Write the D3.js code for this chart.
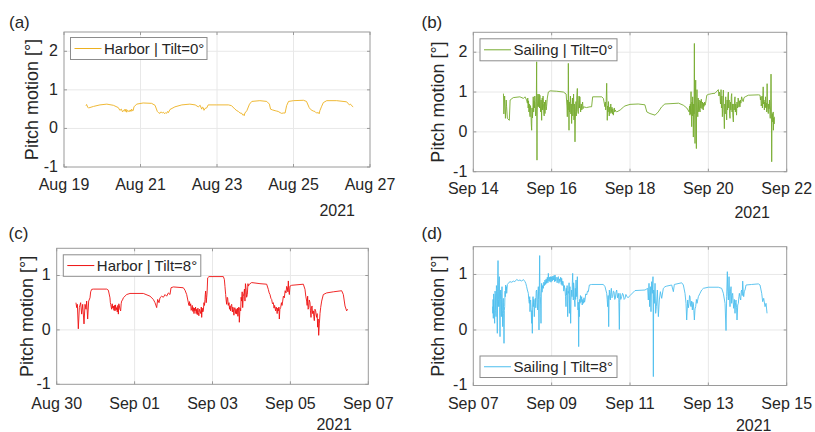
<!DOCTYPE html>
<html><head><meta charset="utf-8">
<script src="https://cdn.jsdelivr.net/npm/d3@7"></script>
<style>
body{margin:0;background:#fff}
svg{display:block}
text{font-family:"Liberation Sans",Arial,Helvetica,sans-serif;fill:#262626}
</style>
</head><body>
<svg id="chart" width="815" height="432"></svg>
<script>
// ---- data: [days since panel start, pitch motion in degrees] ----
const harborTilt0 = [[0.575,0.59],[0.59,0.62],[0.62,0.55],[0.64,0.53],[0.77,0.57],[0.94,0.61],[1.12,0.63],[1.29,0.60],[1.42,0.54],[1.46,0.47],[1.50,0.50],[1.53,0.43],[1.55,0.45],[1.58,0.49],[1.60,0.44],[1.62,0.50],[1.64,0.42],[1.66,0.47],[1.68,0.46],[1.70,0.43],[1.73,0.48],[1.75,0.44],[1.77,0.50],[1.79,0.45],[1.81,0.47],[1.83,0.56],[1.90,0.63],[2.07,0.66],[2.29,0.65],[2.38,0.60],[2.44,0.44],[2.47,0.41],[2.51,0.39],[2.54,0.43],[2.57,0.40],[2.60,0.42],[2.63,0.38],[2.66,0.41],[2.68,0.39],[2.71,0.44],[2.73,0.41],[2.77,0.49],[2.90,0.56],[3.08,0.61],[3.29,0.63],[3.43,0.61],[3.51,0.56],[3.56,0.60],[3.60,0.50],[3.62,0.55],[3.64,0.54],[3.66,0.47],[3.69,0.52],[3.73,0.53],[3.77,0.61],[3.99,0.61],[4.30,0.61],[4.38,0.59],[4.47,0.50],[4.52,0.46],[4.56,0.44],[4.60,0.40],[4.65,0.39],[4.67,0.35],[4.69,0.36],[4.71,0.33],[4.73,0.40],[4.78,0.46],[4.85,0.63],[4.91,0.70],[5.12,0.72],[5.30,0.70],[5.37,0.63],[5.40,0.50],[5.45,0.48],[5.52,0.46],[5.56,0.45],[5.60,0.44],[5.65,0.41],[5.69,0.39],[5.73,0.40],[5.78,0.40],[5.82,0.59],[5.87,0.70],[6.00,0.72],[6.26,0.73],[6.34,0.70],[6.41,0.54],[6.45,0.49],[6.48,0.47],[6.52,0.45],[6.56,0.44],[6.60,0.40],[6.65,0.41],[6.67,0.38],[6.69,0.46],[6.73,0.56],[6.78,0.67],[6.87,0.72],[7.13,0.72],[7.39,0.69],[7.46,0.61],[7.49,0.63],[7.52,0.59],[7.56,0.56]];

const sailingTilt0 = [[0.77,0.96],[0.78,0.45],[0.80,0.90],[0.82,0.34],[0.84,0.80],[0.85,0.63],[0.87,0.34],[0.92,0.29],[0.94,0.80],[1.02,0.86],[1.19,0.88],[1.28,0.84],[1.32,0.88],
[1.36,0.80],[1.38,0.72],[1.39,0.85],[1.40,0.60],[1.41,0.78],[1.42,0.50],[1.43,0.70],[1.44,0.45],[1.45,0.38],[1.46,0.66],[1.47,0.55],[1.48,0.20],[1.49,0.04],[1.50,0.60],[1.51,0.35],[1.52,0.55],[1.53,0.88],[1.54,0.50],[1.55,0.78],[1.56,0.60],[1.57,0.90],[1.58,0.76],[1.59,0.40],[1.60,0.45],[1.61,0.85],[1.617,1.76],[1.626,-0.71],[1.63,0.55],[1.64,0.70],[1.65,0.95],[1.66,0.63],[1.67,0.85],[1.68,0.95],[1.69,0.60],[1.70,0.92],[1.71,0.65],[1.72,0.50],[1.73,0.80],[1.745,0.29],[1.75,0.70],[1.76,0.85],[1.77,0.55],[1.78,0.90],[1.79,0.71],[1.80,0.45],[1.81,0.40],[1.82,0.75],[1.83,0.46],[1.84,0.70],[1.85,0.80],[1.86,0.55],[1.87,0.63],[1.89,0.85],[1.915,1.00],
[1.96,1.03],[2.13,1.02],[2.30,1.00],
[2.37,0.95],[2.38,0.80],[2.39,0.65],[2.40,0.38],[2.41,0.80],[2.42,0.55],[2.426,1.72],[2.435,0.60],[2.443,0.04],[2.45,0.75],[2.46,0.50],[2.47,0.71],[2.48,0.90],[2.49,0.45],[2.50,0.70],[2.51,0.21],[2.52,0.60],[2.53,0.85],[2.54,0.40],[2.55,0.63],[2.56,0.95],[2.57,0.30],[2.58,0.70],[2.596,-0.25],[2.61,0.50],[2.62,0.76],[2.63,0.40],[2.64,0.85],[2.656,1.09],[2.665,0.55],[2.68,0.46],[2.69,0.75],[2.70,0.90],[2.71,0.60],[2.72,0.88],[2.73,0.65],[2.74,0.50],[2.755,0.70],[2.77,0.55],[2.78,0.68],[2.79,0.75],[2.80,0.58],[2.81,0.63],
[2.89,0.61],[2.98,0.63],[3.02,0.63],[3.047,0.88],[3.28,0.88],[3.32,0.84],
[3.36,0.63],[3.37,0.75],[3.38,0.55],[3.39,0.70],[3.405,1.22],[3.42,0.29],[3.43,0.65],[3.44,0.50],[3.45,0.76],[3.46,0.55],[3.47,0.40],[3.48,0.62],[3.49,0.46],[3.50,0.58],[3.51,0.70],[3.52,0.48],[3.53,0.55],[3.54,0.62],[3.55,0.45],[3.56,0.58],[3.575,0.42],[3.59,0.55],[3.60,0.60],[3.61,0.50],[3.62,0.55],[3.64,0.52],[3.66,0.50],
[3.75,0.55],[3.83,0.62],[3.87,0.65],[4.00,0.69],[4.21,0.70],[4.38,0.68],[4.43,0.50],[4.51,0.46],[4.64,0.42],[4.72,0.50],[4.81,0.63],[4.89,0.70],[5.24,0.72],[5.36,0.67],
[5.45,0.60],[5.48,0.55],[5.51,0.50],[5.52,0.65],[5.53,0.42],[5.54,0.70],[5.55,0.45],[5.558,1.01],[5.565,0.50],[5.575,0.13],[5.585,0.75],[5.59,0.40],[5.60,0.88],[5.61,0.55],[5.617,-0.13],[5.625,0.70],[5.635,0.45],[5.643,2.22],[5.65,0.60],[5.66,-0.29],[5.668,0.85],[5.677,1.30],[5.685,0.50],[5.694,-0.42],[5.70,0.70],[5.71,1.06],[5.72,0.55],[5.73,0.38],[5.74,0.85],[5.745,0.76],[5.755,0.50],[5.765,0.80],[5.775,0.55],[5.79,0.50],[5.80,0.78],[5.81,0.60],[5.82,0.82],[5.83,0.71],[5.84,0.58],[5.85,0.75],[5.86,0.62],[5.87,0.55],[5.88,0.72],[5.89,0.64],[5.90,0.75],[5.915,0.67],[5.93,0.72],[5.96,0.92],
[6.00,0.94],[6.09,0.96],[6.17,0.97],
[6.255,1.06],[6.27,0.90],[6.285,1.00],[6.30,0.88],[6.31,0.70],[6.324,1.06],[6.335,0.60],[6.345,0.90],[6.358,0.38],[6.37,0.75],[6.383,1.05],[6.395,0.55],[6.409,0.08],[6.42,0.70],[6.43,0.45],[6.443,0.88],[6.455,0.60],[6.468,0.30],[6.48,0.80],[6.49,0.55],[6.50,0.92],[6.511,1.00],[6.52,0.60],[6.53,0.80],[6.542,0.45],[6.553,0.34],[6.565,0.75],[6.575,0.55],[6.585,0.88],[6.596,0.96],[6.605,0.50],[6.615,0.70],[6.625,0.40],[6.638,0.25],[6.65,0.70],[6.66,0.55],[6.67,0.80],[6.68,0.88],[6.69,0.50],[6.70,0.70],[6.71,0.60],[6.72,0.42],[6.73,0.75],[6.745,0.60],[6.76,0.85],[6.77,0.80],[6.78,0.62],[6.79,0.78],[6.80,0.65],[6.81,0.63],[6.82,0.80],[6.83,0.72],[6.85,0.88],[6.87,0.80],[6.89,0.76],[6.91,0.86],[6.94,0.88],
[7.02,0.92],[7.28,0.93],
[7.32,0.92],[7.33,0.80],[7.34,0.88],[7.35,0.65],[7.36,0.71],[7.37,0.90],[7.38,0.60],[7.39,0.85],[7.40,1.13],[7.41,0.70],[7.42,0.80],[7.43,0.55],[7.44,0.75],[7.45,0.62],[7.46,0.88],[7.47,0.60],[7.48,0.72],[7.49,0.50],[7.50,1.21],[7.51,0.65],[7.52,0.55],[7.53,0.46],[7.54,0.70],[7.55,0.58],[7.56,0.80],[7.57,0.50],[7.58,0.34],[7.59,0.65],[7.60,1.45],[7.61,0.50],[7.617,-0.75],[7.625,0.40],[7.634,0.46],[7.645,0.25],[7.655,0.50],[7.66,0.04],[7.67,0.35],[7.68,0.20],[7.685,0.38]];

const harborTilt8 = [[0.495,0.50],[0.513,0.41],[0.530,0.47],[0.555,0.02],[0.581,0.41],[0.615,0.50],[0.641,0.29],[0.667,0.47],[0.701,0.11],[0.727,0.47],[0.752,0.38],[0.769,0.53],[0.795,0.20],[0.821,0.53],[0.855,0.59],[0.872,0.70],[0.898,0.745],[0.94,0.75],[1.283,0.75],[1.326,0.73],
[1.368,0.59],[1.378,0.50],[1.386,0.47],[1.40,0.42],[1.411,0.38],[1.425,0.48],[1.44,0.40],[1.454,0.44],[1.47,0.36],[1.485,0.45],[1.497,0.35],[1.51,0.46],[1.525,0.37],[1.54,0.41],[1.555,0.33],[1.57,0.45],[1.583,0.29],[1.595,0.48],[1.608,0.44],[1.625,0.38],[1.642,0.35],[1.655,0.48],[1.668,0.53],[1.69,0.55],[1.711,0.59],
[1.796,0.65],[1.882,0.67],[2.224,0.67],[2.396,0.62],[2.481,0.56],[2.524,0.50],[2.567,0.41],[2.592,0.56],[2.627,0.50],[2.652,0.59],[2.695,0.62],[2.738,0.60],[2.781,0.65],[2.823,0.62],[2.866,0.68],[2.909,0.65],[2.935,0.775],[2.995,0.79],[3.251,0.775],[3.294,0.73],[3.337,0.65],
[3.38,0.50],[3.395,0.45],[3.41,0.52],[3.422,0.44],[3.44,0.48],[3.452,0.36],[3.465,0.38],[3.48,0.45],[3.495,0.34],[3.508,0.41],[3.525,0.30],[3.54,0.40],[3.551,0.35],[3.565,0.42],[3.58,0.30],[3.594,0.38],[3.61,0.28],[3.625,0.40],[3.636,0.32],[3.65,0.26],[3.665,0.38],[3.679,0.35],[3.70,0.30],[3.712,0.42],[3.722,0.23],[3.735,0.40],[3.75,0.33],[3.765,0.35],[3.78,0.50],[3.795,0.45],[3.807,0.56],[3.815,0.65],[3.825,0.715],[3.838,0.50],[3.85,0.59],[3.862,0.70],[3.876,0.957],[3.91,0.98],[4.278,0.98],
[4.304,0.93],[4.32,0.80],[4.338,0.65],[4.35,0.55],[4.364,0.47],[4.376,0.60],[4.389,0.59],[4.405,0.45],[4.424,0.50],[4.437,0.38],[4.45,0.44],[4.465,0.35],[4.478,0.45],[4.492,0.47],[4.51,0.33],[4.522,0.42],[4.535,0.38],[4.55,0.27],[4.563,0.40],[4.578,0.41],[4.595,0.30],[4.608,0.38],[4.621,0.29],[4.64,0.40],[4.652,0.25],[4.664,0.35],[4.677,0.42],[4.689,0.14],[4.705,0.40],[4.723,0.35],[4.735,0.60],[4.749,0.53],[4.762,0.70],[4.775,0.41],[4.79,0.62],[4.809,0.68],[4.82,0.75],[4.834,0.53],[4.846,0.85],[4.86,0.775],[4.876,0.60],[4.894,0.65],[4.91,0.85],[4.92,0.805],[4.946,0.84],
[5.005,0.87],[5.219,0.85],[5.391,0.84],
[5.433,0.745],[5.455,0.68],[5.476,0.65],[5.50,0.58],[5.519,0.56],[5.54,0.48],[5.562,0.50],[5.58,0.40],[5.595,0.45],[5.605,0.41],[5.62,0.35],[5.635,0.42],[5.647,0.38],[5.66,0.30],[5.675,0.40],[5.69,0.35],[5.705,0.42],[5.716,0.20],[5.73,0.38],[5.75,0.41],[5.77,0.50],[5.785,0.45],[5.802,0.53],[5.82,0.62],[5.844,0.59],[5.865,0.72],[5.887,0.68],[5.905,0.80],[5.921,0.775],[5.935,0.70],[5.947,0.90],[5.96,0.72],[5.973,0.65],[5.99,0.805],[6.033,0.82],
[6.332,0.84],[6.375,0.745],[6.395,0.62],[6.418,0.53],[6.43,0.45],[6.443,0.62],[6.455,0.38],[6.469,0.41],[6.485,0.55],[6.503,0.50],[6.515,0.35],[6.529,0.23],[6.54,0.40],[6.555,0.44],[6.57,0.30],[6.589,0.35],[6.60,0.25],[6.614,0.17],[6.63,0.38],[6.649,0.35],[6.66,0.28],[6.674,0.23],[6.687,0.30],[6.70,0.05],[6.713,0.20],[6.726,-0.10],[6.743,0.11],[6.76,0.30],[6.777,0.41],[6.803,0.53],[6.845,0.65],[6.931,0.68],[7.102,0.70],[7.316,0.72],[7.359,0.65],[7.402,0.44],[7.444,0.35],[7.47,0.38]];

const sailingTilt8 = [[0.494,0.42],[0.50,0.30],[0.505,0.55],[0.511,0.21],[0.52,0.65],[0.528,0.57],[0.535,0.30],[0.545,0.12],[0.555,0.70],[0.563,0.66],[0.57,0.35],[0.58,0.24],[0.59,0.80],[0.597,0.75],[0.605,0.30],[0.613,-0.06],[0.62,0.70],[0.631,1.25],[0.64,0.55],[0.648,0.42],[0.655,0.85],[0.665,0.96],[0.672,0.40],[0.682,-0.12],[0.69,0.55],[0.699,0.72],[0.708,0.45],[0.716,0.24],[0.725,0.65],[0.733,0.78],[0.742,0.35],[0.75,0.06],[0.758,0.50],[0.767,0.57],[0.775,0.30],[0.784,-0.24],[0.792,0.35],[0.801,0.42],[0.81,0.70],[0.818,0.60],[0.826,0.81],[0.835,0.72],[0.845,0.78],[0.852,0.66],[0.87,0.82],[0.894,0.84],[0.915,0.86],[0.937,0.87],[0.98,0.86],[1.022,0.88],[1.06,0.87],[1.107,0.91],[1.15,0.89],[1.192,0.90],[1.235,0.88],[1.277,0.91],
[1.32,0.87],[1.34,0.84],[1.362,0.78],[1.38,0.72],[1.405,0.66],[1.415,0.55],[1.43,0.48],[1.44,0.60],[1.447,0.33],[1.455,0.50],[1.464,0.54],[1.475,0.40],[1.49,0.12],[1.498,0.35],[1.507,-0.06],[1.515,0.45],[1.525,0.60],[1.532,0.42],[1.545,0.55],[1.558,0.24],[1.57,0.50],[1.584,0.57],[1.595,0.40],[1.605,0.70],[1.617,0.72],[1.63,0.50],[1.643,0.36],[1.65,0.65],[1.66,0.78],[1.668,0.55],[1.677,0.0],[1.685,0.70],[1.694,1.34],[1.70,0.75],[1.711,0.60],[1.72,0.45],[1.728,0.12],[1.737,0.70],[1.745,0.84],[1.755,0.68],[1.77,0.80],[1.788,0.75],[1.80,0.86],[1.815,0.80],[1.83,0.90],[1.845,0.82],[1.86,0.92],[1.873,0.84],[1.89,0.95],[1.905,0.85],[1.915,1.02],[1.93,0.88],[1.945,0.95],[1.958,0.87],[1.97,0.96],[1.985,0.86],[2.0,0.96],[2.015,0.88],[2.03,0.97],[2.043,0.90],[2.06,0.98],[2.075,0.87],[2.086,0.99],[2.10,0.88],[2.115,0.95],[2.128,0.93],[2.14,0.85],[2.155,0.95],[2.171,0.96],[2.185,0.84],[2.20,0.92],[2.213,0.87],[2.23,0.95],[2.245,0.82],[2.256,0.93],[2.27,0.80],[2.285,0.88],[2.298,0.84],[2.31,0.70],[2.325,0.80],[2.341,0.72],[2.355,0.60],
[2.366,0.42],[2.375,0.75],[2.383,0.63],[2.395,0.80],[2.409,0.24],[2.42,0.70],[2.435,0.66],[2.445,0.85],[2.452,0.30],[2.46,0.62],[2.468,0.78],[2.477,0.45],[2.485,0.12],[2.495,0.55],[2.511,0.72],[2.52,0.60],[2.528,0.85],[2.537,1.02],[2.545,0.70],[2.553,0.54],[2.56,0.85],[2.57,0.78],[2.58,0.55],[2.596,0.42],[2.605,0.75],[2.613,0.55],[2.622,0.90],[2.63,0.70],[2.639,0.60],[2.647,0.80],[2.656,0.96],[2.665,0.55],[2.673,0.36],[2.68,0.50],[2.69,-0.30],[2.698,0.40],[2.707,0.24],[2.715,0.55],[2.724,0.48],[2.735,0.62],[2.75,0.50],[2.766,0.60],[2.78,0.45],[2.795,0.55],[2.809,0.48],[2.825,0.58],[2.84,0.50],[2.851,0.54],[2.87,0.65],[2.894,0.63],[2.915,0.70],[2.937,0.69],[2.962,0.81],
[3.022,0.82],[3.319,0.82],[3.362,0.78],
[3.405,0.66],[3.418,0.55],[3.43,0.42],[3.443,0.62],[3.456,0.06],[3.465,0.55],[3.473,0.72],[3.485,0.60],[3.498,0.54],[3.51,0.68],[3.524,0.75],[3.54,0.58],[3.558,0.60],[3.575,0.70],[3.592,0.69],[3.61,0.55],[3.626,0.57],[3.643,0.68],[3.66,0.72],[3.68,0.58],[3.702,0.66],[3.715,0.55],[3.728,0.01],[3.737,0.50],[3.745,0.66],[3.765,0.55],[3.787,0.60],[3.81,0.66],[3.83,0.63],[3.85,0.55],[3.873,0.57],[3.895,0.64],[3.915,0.61],[3.95,0.58],[4.0,0.62],
[4.128,0.71],[4.383,0.72],[4.451,0.75],[4.468,0.54],[4.485,0.84],[4.502,0.42],[4.519,0.78],[4.536,0.33],[4.553,0.87],[4.57,0.66],[4.587,0.96],[4.596,-0.84],[4.604,0.72],[4.621,0.48],[4.639,0.84],[4.655,0.30],[4.673,0.42],[4.698,0.72],[4.724,0.24],[4.749,0.54],[4.775,0.69],[4.809,0.57],[4.851,0.75],[4.894,0.78],[4.937,0.79],[5.064,0.81],[5.107,0.69],[5.132,0.82],[5.32,0.85],[5.362,0.81],[5.404,0.66],[5.43,0.48],[5.447,0.18],[5.473,0.54],[5.49,0.40],[5.507,0.48],[5.52,0.62],[5.532,0.60],[5.545,0.45],[5.558,0.42],[5.575,0.52],[5.592,0.36],[5.605,0.50],[5.617,0.48],[5.63,0.35],[5.643,0.18],[5.66,0.38],[5.677,0.42],[5.695,0.55],[5.711,0.48],[5.745,0.60],[5.787,0.66],[5.83,0.72],[5.873,0.75],[6.0,0.77],[6.255,0.77],[6.34,0.75],[6.383,0.66],[6.426,0.48],[6.451,-0.01],[6.468,0.60],[6.485,1.05],[6.495,0.70],[6.511,0.54],[6.528,0.96],[6.54,0.65],[6.553,0.42],[6.565,0.70],[6.579,0.78],[6.596,0.48],[6.61,0.62],[6.621,0.66],[6.635,0.50],[6.647,0.39],[6.665,0.55],[6.681,0.30],[6.695,0.50],[6.706,0.54],[6.72,0.40],[6.732,0.18],[6.75,0.45],[6.766,0.48],[6.78,0.60],[6.792,0.66],[6.81,0.58],[6.826,0.54],[6.84,0.70],[6.851,0.72],[6.865,0.62],[6.877,0.88],[6.89,0.70],[6.902,0.60],[6.92,0.70],[6.936,0.72],[6.962,0.81],[7.106,0.82],[7.277,0.83],[7.319,0.81],[7.362,0.66],[7.387,0.51],[7.413,0.57],[7.447,0.42],[7.472,0.48],[7.498,0.30]];

const panelStarts = ["2021-08-19","2021-09-14","2021-08-30","2021-09-07"];
const panelLetters = ["(a)","(b)","(c)","(d)"];
const legendLabels = ["Harbor | Tilt=0°","Sailing | Tilt=0°","Harbor | Tilt=8°","Sailing | Tilt=8°"];
const yTicksTop = [-1,0,1,2];
const yTicksBottom = [-1,0,1];
const xTickStepDays = [0,2,4,6,8];
const yearText = "2021";
const yTitle = "Pitch motion [°]";

// ---- layout / style ----
const panels = [
  {data:harborTilt0, color:"#EDB120", x0:64, x1:370, y0:32, y1:167, yDom:[-1,2.5], yTicks:yTicksTop,
   tickBase:190, yearBase:215.5, yearRight:355, titleX:31.5, letter:[9,27.5],
   legend:{x:70.5,y:37.5,w:136.5,h:22}},
  {data:sailingTilt0, color:"#77AC30", x0:473.3, x1:786.7, y0:32.3, y1:171.7, yDom:[-1,2.5], yTicks:yTicksTop,
   tickBase:194, yearBase:217.5, yearRight:770, titleX:438, letter:[421.5,27.5],
   legend:{x:480,y:38.8,w:137,h:22}},
  {data:harborTilt8, color:"#EE1111", x0:56.7, x1:368.3, y0:248.3, y1:384.3, yDom:[-1,1.5], yTicks:yTicksBottom,
   tickBase:408.7, yearBase:429.5, yearRight:352, titleX:26.5, letter:[8.5,238.5],
   legend:{x:63.3,y:254.8,w:137.5,h:21.5}},
  {data:sailingTilt8, color:"#4DBEEE", x0:473.3, x1:786.7, y0:246.7, y1:385.5, yDom:[-1,1.5], yTicks:yTicksBottom,
   tickBase:409.3, yearBase:430.5, yearRight:771.5, titleX:438, letter:[421.5,238.5],
   legend:{x:480,y:356,w:137,h:21.5}}
];

const DAY = 864e5;
const svg = d3.select("#chart");
const fmt = d3.utcFormat("%b %d");
const boxColor = "#9a9a9a", gridColor = "#e8e8e8";

panels.forEach((p, i) => {
  const start = Date.parse(panelStarts[i] + "T00:00:00Z");
  const x = d3.scaleUtc().domain([new Date(start), new Date(start + 8*DAY)]).range([p.x0, p.x1]);
  const y = d3.scaleLinear().domain(p.yDom).range([p.y1, p.y0]);
  const g = svg.append("g");
  const xTicks = xTickStepDays.map(k => new Date(start + k*DAY));

  // grid
  g.selectAll(".gx").data(xTicks.slice(1,-1)).join("line")
    .attr("x1", d => x(d)).attr("x2", d => x(d)).attr("y1", p.y0).attr("y2", p.y1)
    .attr("stroke", gridColor).attr("stroke-width", 1);
  g.selectAll(".gy").data(p.yTicks.filter(v => v > p.yDom[0])).join("line")
    .attr("y1", d => y(d)).attr("y2", d => y(d)).attr("x1", p.x0).attr("x2", p.x1)
    .attr("stroke", gridColor).attr("stroke-width", 1);

  // data line
  const line = d3.line().x(d => x(new Date(start + d[0]*DAY))).y(d => y(d[1]));
  g.append("path").datum(p.data).attr("d", line)
    .attr("fill", "none").attr("stroke", p.color).attr("stroke-width", 0.9)
    .attr("stroke-linejoin", "round");

  // box
  g.append("rect").attr("x", p.x0).attr("y", p.y0).attr("width", p.x1 - p.x0).attr("height", p.y1 - p.y0)
    .attr("fill", "none").attr("stroke", boxColor).attr("stroke-width", 1);

  // ticks (inward, mirrored)
  xTicks.forEach(t => {
    const xx = x(t);
    g.append("line").attr("x1", xx).attr("x2", xx).attr("y1", p.y1).attr("y2", p.y1 - 3).attr("stroke", boxColor);
    g.append("line").attr("x1", xx).attr("x2", xx).attr("y1", p.y0).attr("y2", p.y0 + 3).attr("stroke", boxColor);
  });
  p.yTicks.forEach(v => {
    const yy = y(v);
    g.append("line").attr("x1", p.x0).attr("x2", p.x0 + 3).attr("y1", yy).attr("y2", yy).attr("stroke", boxColor);
    g.append("line").attr("x1", p.x1).attr("x2", p.x1 - 3).attr("y1", yy).attr("y2", yy).attr("stroke", boxColor);
  });

  // tick labels
  g.selectAll(".xl").data(xTicks).join("text")
    .attr("x", d => x(d)).attr("y", p.tickBase).attr("text-anchor", "middle")
    .attr("font-size", 16).text(d => fmt(d));
  g.selectAll(".yl").data(p.yTicks).join("text")
    .attr("x", p.x0 - 6).attr("y", d => y(d)).attr("dy", "0.3em").attr("text-anchor", "end")
    .attr("font-size", 16).text(d => d);
  g.append("text").attr("x", p.yearRight).attr("y", p.yearBase).attr("text-anchor", "end")
    .attr("font-size", 16).text(yearText);

  // y title
  g.append("text")
    .attr("transform", `translate(${p.titleX},${(p.y0 + p.y1)/2}) rotate(-90)`)
    .attr("text-anchor", "middle").attr("dy", "0.36em").attr("font-size", 18).text(yTitle);

  // panel letter
  g.append("text").attr("x", p.letter[0]).attr("y", p.letter[1]).attr("font-size", 17).text(panelLetters[i]);

  // legend
  const L = p.legend;
  g.append("rect").attr("x", L.x).attr("y", L.y).attr("width", L.w).attr("height", L.h)
    .attr("fill", "#fff").attr("stroke", "#8c8c8c").attr("stroke-width", 1);
  g.append("line").attr("x1", L.x + 4).attr("x2", L.x + 31).attr("y1", L.y + L.h/2).attr("y2", L.y + L.h/2)
    .attr("stroke", p.color).attr("stroke-width", 1);
  g.append("text").attr("x", L.x + 33.5).attr("y", L.y + L.h/2).attr("dy", "0.36em")
    .attr("font-size", 15).text(legendLabels[i]);
});
</script>
</body></html>
